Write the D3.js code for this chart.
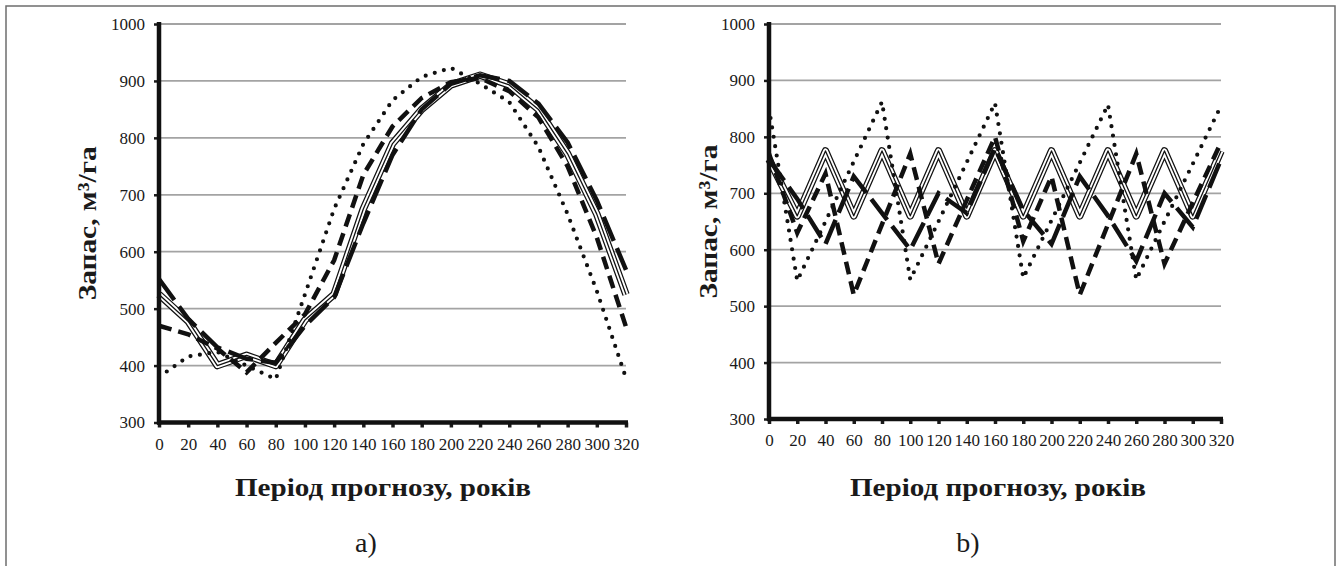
<!DOCTYPE html>
<html>
<head>
<meta charset="utf-8">
<script src="https://cdn.jsdelivr.net/npm/d3@7"></script>
<style>
  body { margin: 0; background: #fff; }
  text { font-family: "Liberation Serif", "Times New Roman", "DejaVu Serif", serif; fill: #1a1a1a; }
</style>
</head>
<body>
<svg id="fig" width="1338" height="566"></svg>
<script>
//============ data ============//
var years = [0, 20, 40, 60, 80, 100, 120, 140, 160, 180, 200, 220, 240, 260, 280, 300, 320];
var yTicks = [300, 400, 500, 600, 700, 800, 900, 1000];

// panel a)
var aTriple   = [525, 478, 400, 418, 400, 480, 525, 675, 790, 850, 893, 910, 893, 850, 772, 666, 525];
var aLongDash = [552, 482, 432, 412, 405, 470, 520, 650, 770, 850, 895, 910, 900, 860, 792, 690, 568];
var aDash     = [470, 455, 430, 388, 440, 490, 585, 735, 820, 870, 898, 905, 882, 836, 750, 625, 468];
var aDot      = [380, 416, 424, 400, 376, 525, 675, 789, 866, 907, 923, 895, 863, 784, 666, 531, 378];

// panel b)
var bTriple   = [760, 660, 775, 660, 775, 660, 775, 660, 775, 660, 775, 660, 775, 660, 775, 660, 775];
var bLongDash = [760, 690, 610, 730, 665, 600, 700, 665, 780, 670, 610, 730, 660, 580, 700, 640, 760];
var bDash     = [770, 630, 735, 520, 645, 770, 575, 688, 800, 615, 730, 520, 645, 770, 575, 683, 790];
var bDot      = [850, 545, 650, 756, 862, 547, 650, 755, 860, 550, 652, 754, 857, 547, 650, 752, 855];

var yTitle = 'Запас, м³/га';
var xTitle = 'Період прогнозу, років';
var serif = '"Liberation Serif", "Times New Roman", "DejaVu Serif", serif';

//============ layout ============//
var panels = [
  {label: 'a)', series: [aTriple, aLongDash, aDash, aDot],
   left: 159, right: 626, top: 24, bottom: 422.5, yTitleX: 87, xTitleX: 383, labelX: 366},
  {label: 'b)', series: [bTriple, bLongDash, bDash, bDot],
   left: 769, right: 1221, top: 24, bottom: 419, yTitleX: 708, xTitleX: 998, labelX: 968}
];

var svg = d3.select('#fig');

// outer frame
svg.append('rect')
  .attr('x', 6).attr('y', 6)
  .attr('width', 1329).attr('height', 600)
  .attr('fill', 'none')
  .attr('stroke', '#6e6e6e')
  .attr('stroke-width', 1.5);

panels.forEach(function(p) {
  var x = d3.scaleLinear().domain([0, 320]).range([p.left, p.right]);
  var y = d3.scaleLinear().domain([300, 1000]).range([p.bottom, p.top]);
  var g = svg.append('g');

  // gridlines
  g.selectAll('.grid')
    .data(yTicks.slice(1))
    .enter().append('line')
    .attr('x1', p.left).attr('x2', p.right)
    .attr('y1', function(d) { return y(d); })
    .attr('y2', function(d) { return y(d); })
    .attr('stroke', '#a3a3a3')
    .attr('stroke-width', 1.8);

  // y axis labels + ticks
  var yAxis = g.append('g')
    .attr('transform', 'translate(' + p.left + ',0)')
    .call(d3.axisLeft(y).tickValues(yTicks).tickFormat(d3.format('d')).tickSize(5).tickPadding(9));
  yAxis.attr('font-family', null);
  yAxis.select('.domain').remove();
  yAxis.selectAll('line').attr('stroke', '#1a1a1a').attr('stroke-width', 2.5);
  yAxis.selectAll('text').style('font-size', '17px').style('font-family', serif);

  // x axis labels + ticks
  var xAxis = g.append('g')
    .attr('transform', 'translate(0,' + p.bottom + ')')
    .call(d3.axisBottom(x).tickValues(years).tickFormat(d3.format('d')).tickSize(5).tickPadding(10));
  xAxis.attr('font-family', null);
  xAxis.select('.domain').remove();
  xAxis.selectAll('line').attr('stroke', '#1a1a1a').attr('stroke-width', 3.5);
  xAxis.selectAll('text').style('font-size', '17px').style('font-family', serif);

  var line = d3.line()
    .x(function(d, i) { return x(years[i]); })
    .y(function(d) { return y(d); });

  // triple compound line
  var tri = p.series[0];
  [[7.5, '#111'], [5, '#fff'], [1.3, '#111']].forEach(function(s) {
    g.append('path').datum(tri)
      .attr('d', line)
      .attr('fill', 'none')
      .attr('stroke', s[1])
      .attr('stroke-width', s[0])
      .attr('stroke-linejoin', 'round');
  });

  // long dash
  g.append('path').datum(p.series[1])
    .attr('d', line).attr('fill', 'none')
    .attr('stroke', '#111').attr('stroke-width', 4.5)
    .attr('stroke-dasharray', '26,8');

  // dash
  g.append('path').datum(p.series[2])
    .attr('d', line).attr('fill', 'none')
    .attr('stroke', '#111').attr('stroke-width', 4.5)
    .attr('stroke-dasharray', '13,7');

  // round dot
  g.append('path').datum(p.series[3])
    .attr('d', line).attr('fill', 'none')
    .attr('stroke', '#111').attr('stroke-width', 4.2)
    .attr('stroke-linecap', 'round')
    .attr('stroke-dasharray', '0,9.5');

  // axis lines
  g.append('line')
    .attr('x1', p.left).attr('x2', p.left)
    .attr('y1', p.top - 2).attr('y2', p.bottom + 2)
    .attr('stroke', '#111').attr('stroke-width', 4.5);
  g.append('line')
    .attr('x1', p.left - 2).attr('x2', p.right + 2)
    .attr('y1', p.bottom).attr('y2', p.bottom)
    .attr('stroke', '#111').attr('stroke-width', 4.5);

  // titles
  g.append('text')
    .attr('transform', 'translate(' + (p.yTitleX + 9) + ',' + ((p.top + p.bottom) / 2) + ') rotate(-90)')
    .attr('text-anchor', 'middle')
    .attr('textLength', 154).attr('lengthAdjust', 'spacingAndGlyphs')
    .style('font-family', serif)
    .style('font-size', '26px').style('font-weight', 'bold')
    .text(yTitle);

  g.append('text')
    .attr('x', p.xTitleX).attr('y', 496)
    .attr('text-anchor', 'middle')
    .attr('textLength', 296).attr('lengthAdjust', 'spacingAndGlyphs')
    .style('font-family', serif)
    .style('font-size', '26px').style('font-weight', 'bold')
    .text(xTitle);

  g.append('text')
    .attr('x', p.labelX).attr('y', 552)
    .attr('text-anchor', 'middle')
    .style('font-family', serif)
    .style('font-size', '28px')
    .text(p.label);
});
</script>
</body>
</html>
